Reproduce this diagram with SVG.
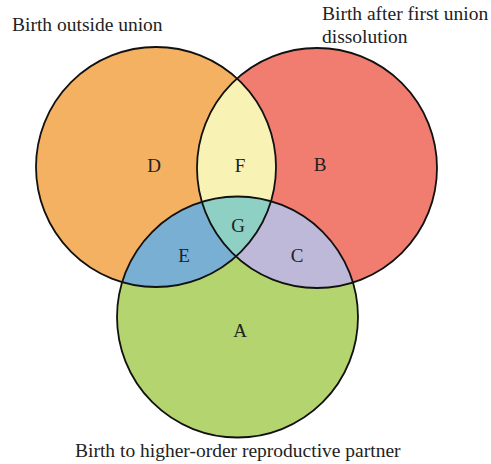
<svg xmlns="http://www.w3.org/2000/svg" width="491" height="464" viewBox="0 0 491 464">
<style>
.lbl{font-family:"Liberation Serif","Times New Roman",serif;font-size:19px;fill:#222;text-anchor:middle}
.ttl{font-family:"Liberation Serif","Times New Roman",serif;font-size:19.5px;fill:#222}
.ol{fill:none;stroke:#111;stroke-width:1.8}
</style>
<defs>
<circle id="cD" cx="156" cy="167" r="120"/>
<circle id="cB" cx="317" cy="168" r="120"/>
<circle id="cA" cx="237.5" cy="317" r="120.5"/>
<clipPath id="clipD"><use href="#cD"/></clipPath>
<clipPath id="clipB"><use href="#cB"/></clipPath>
<clipPath id="clipA"><use href="#cA"/></clipPath>
</defs>
<rect width="491" height="464" fill="#fff"/>
<g id="regions">
<use href="#cD" fill="#F5B162"/>
<use href="#cB" fill="#F17C70"/>
<use href="#cA" fill="#B3D46E"/>
<g clip-path="url(#clipD)"><use href="#cB" fill="#F8F3B4"/></g>
<g clip-path="url(#clipD)"><use href="#cA" fill="#7AAFD4"/></g>
<g clip-path="url(#clipB)"><use href="#cA" fill="#BEB9D9"/></g>
<g clip-path="url(#clipD)"><g clip-path="url(#clipB)"><use href="#cA" fill="#8ED0C4"/></g></g>
</g>
<g id="outlines">
<use href="#cD" class="ol"/>
<use href="#cB" class="ol"/>
<use href="#cA" class="ol"/>
</g>
<g id="labels">
<text class="lbl" x="154" y="172">D</text>
<text class="lbl" x="240" y="172">F</text>
<text class="lbl" x="320" y="171">B</text>
<text class="lbl" x="238" y="232">G</text>
<text class="lbl" x="184" y="262">E</text>
<text class="lbl" x="297" y="262">C</text>
<text class="lbl" x="240" y="337">A</text>
</g>
<g id="titles">
<text class="ttl" x="12" y="31">Birth outside union</text>
<text class="ttl" x="322" y="20">Birth after first union</text>
<text class="ttl" x="322" y="43">dissolution</text>
<text class="ttl" x="75" y="457">Birth to higher-order reproductive partner</text>
</g>
</svg>
